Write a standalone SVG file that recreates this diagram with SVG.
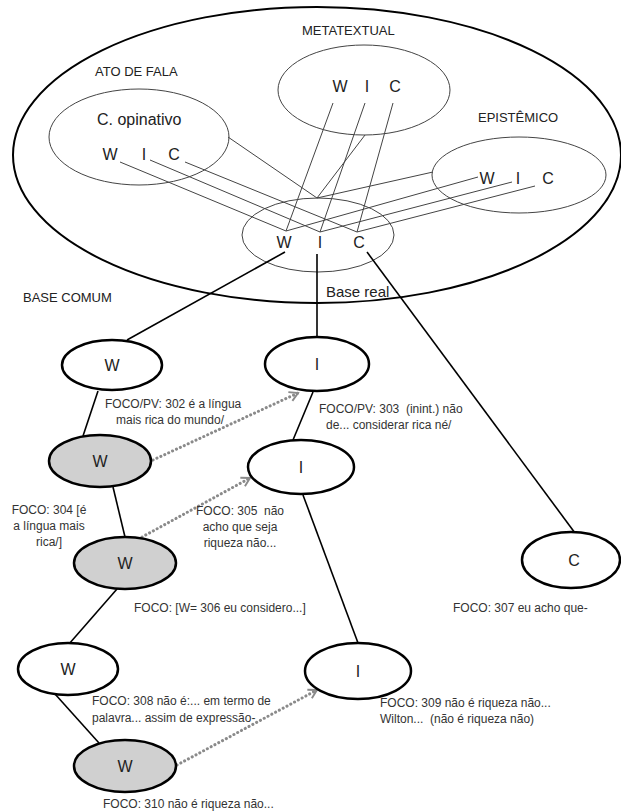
<svg xmlns="http://www.w3.org/2000/svg" width="621" height="811" viewBox="0 0 621 811">
<defs>
<style>
.lbl{font-family:"Liberation Sans",Arial,sans-serif;fill:#222}
.cap{font-family:"Liberation Sans",Arial,sans-serif;font-size:13px;fill:#222}
.sm{font-family:"Liberation Sans",Arial,sans-serif;font-size:12px;fill:#333}
.let{font-family:"Liberation Sans",Arial,sans-serif;font-size:16px;fill:#222;text-anchor:middle}
.thin{fill:none;stroke:#444;stroke-width:1}
.node{stroke:#000;stroke-width:2.5}
.edge{stroke:#000;stroke-width:1.6;fill:none}
.dot{stroke:#8a8a8a;stroke-width:3;stroke-dasharray:0.1 4.2;stroke-linecap:round;fill:none}
</style>
<marker id="arr" viewBox="0 0 10 10" refX="8" refY="5" markerWidth="4" markerHeight="4" orient="auto" markerUnits="strokeWidth">
<path d="M1,1 L8,5 L1,9" fill="none" stroke="#8a8a8a" stroke-width="1.6"/>
</marker>
</defs>
<rect width="621" height="811" fill="#fff"/>

<g id="context">
<ellipse cx="317" cy="155" rx="304" ry="148" fill="none" stroke="#000" stroke-width="2"/>
<text class="cap" x="95" y="76">ATO DE FALA</text>
<text class="cap" x="302" y="35">METATEXTUAL</text>
<text class="cap" x="478" y="122">EPISTÊMICO</text>
<text class="cap" x="23" y="302">BASE COMUM</text>
</g>

<g id="c-opinativo">
<ellipse class="thin" cx="139" cy="137" rx="90" ry="48"/>
<text class="lbl" x="97" y="125" font-size="16">C. opinativo</text>
<text class="let" x="110" y="160">W</text>
<text class="let" x="144" y="160">I</text>
<text class="let" x="174" y="160">C</text>
</g>

<g id="metatextual">
<ellipse class="thin" cx="364" cy="90" rx="86" ry="45"/>
<text class="let" x="340" y="92">W</text>
<text class="let" x="367" y="92">I</text>
<text class="let" x="395" y="92">C</text>
</g>

<g id="epistemico">
<ellipse class="thin" cx="519" cy="175" rx="87" ry="38"/>
<text class="let" x="487" y="184">W</text>
<text class="let" x="518" y="184">I</text>
<text class="let" x="548" y="184">C</text>
</g>

<g id="base-real">
<ellipse class="thin" cx="318" cy="235" rx="76" ry="37"/>
<text class="let" x="284" y="248">W</text>
<text class="let" x="320" y="248">I</text>
<text class="let" x="359" y="248">C</text>
<text class="lbl" x="326" y="297" font-size="15">Base real</text>
</g>

<g id="connectors">
<g class="thin">
<line x1="120" y1="162" x2="286" y2="231"/>
<line x1="150" y1="160" x2="320" y2="232"/>
<line x1="185" y1="162" x2="357" y2="232"/>
<line x1="333" y1="103" x2="286" y2="231"/>
<line x1="365" y1="103" x2="320" y2="232"/>
<line x1="393" y1="103" x2="357" y2="232"/>
<line x1="478" y1="177" x2="286" y2="231"/>
<line x1="512" y1="182" x2="320" y2="232"/>
<line x1="535" y1="186" x2="357" y2="232"/>
<line x1="228" y1="137" x2="317" y2="198"/>
<line x1="365" y1="135" x2="317" y2="198"/>
<line x1="433" y1="172" x2="317" y2="198"/>
</g>
<line class="edge" x1="285" y1="252" x2="127" y2="340"/>
<line class="edge" x1="317" y1="254" x2="317" y2="338"/>
<line class="edge" x1="367" y1="252" x2="575" y2="533"/>
<line class="edge" x1="98" y1="391" x2="83" y2="436"/>
<line class="edge" x1="113" y1="487" x2="125" y2="537"/>
<line class="edge" x1="117" y1="589" x2="69" y2="644"/>
<line class="edge" x1="55" y1="694" x2="99" y2="743"/>
<line class="edge" x1="313" y1="392" x2="293" y2="440"/>
<line class="edge" x1="303" y1="495" x2="358" y2="643"/>
<path class="dot" d="M153,460 L298,393" marker-end="url(#arr)"/>
<path class="dot" d="M142,537 L250,478" marker-end="url(#arr)"/>
<path class="dot" d="M177,765 L317,690" marker-end="url(#arr)"/>
</g>

<g id="node-w1">
<ellipse class="node" cx="112" cy="365" rx="50" ry="25" fill="#fff"/>
<text class="let" x="112" y="371">W</text>
</g>
<g id="node-i1">
<ellipse class="node" cx="317" cy="364" rx="52" ry="27" fill="#fff"/>
<text class="let" x="317" y="370">I</text>
</g>
<g id="node-w2">
<ellipse class="node" cx="100" cy="461" rx="51" ry="26" fill="#d0d0d0"/>
<text class="let" x="100" y="467">W</text>
</g>
<g id="node-i2">
<ellipse class="node" cx="301" cy="467" rx="53" ry="27" fill="#fff"/>
<text class="let" x="301" y="473">I</text>
</g>
<g id="node-w3">
<ellipse class="node" cx="125" cy="563" rx="51" ry="26" fill="#d0d0d0"/>
<text class="let" x="125" y="569">W</text>
</g>
<g id="node-c">
<ellipse class="node" cx="571" cy="560" rx="49" ry="28" fill="#fff"/>
<text class="let" x="574" y="566">C</text>
</g>
<g id="node-w4">
<ellipse class="node" cx="68" cy="669" rx="50" ry="26" fill="#fff"/>
<text class="let" x="68" y="675">W</text>
</g>
<g id="node-i3">
<ellipse class="node" cx="358" cy="671" rx="53" ry="28" fill="#fff"/>
<text class="let" x="358" y="677">I</text>
</g>
<g id="node-w5">
<ellipse class="node" cx="125" cy="766" rx="51" ry="26" fill="#d0d0d0"/>
<text class="let" x="125" y="772">W</text>
</g>

<g id="captions">
<text class="sm" x="105" y="408">FOCO/PV: 302 é a língua</text>
<text class="sm" x="116" y="424">mais rica do mundo/</text>
<text class="sm" x="319" y="413" xml:space="preserve">FOCO/PV: 303  (inint.) não</text>
<text class="sm" x="326" y="429">de... considerar rica né/</text>
<text class="sm" x="49" y="514" text-anchor="middle">FOCO: 304 [é</text>
<text class="sm" x="49" y="530" text-anchor="middle">a língua mais</text>
<text class="sm" x="49" y="546" text-anchor="middle">rica/]</text>
<text class="sm" x="240" y="515" text-anchor="middle" xml:space="preserve">FOCO: 305  não</text>
<text class="sm" x="240" y="531" text-anchor="middle">acho que seja</text>
<text class="sm" x="240" y="547" text-anchor="middle">riqueza não...</text>
<text class="sm" x="134" y="612">FOCO: [W= 306 eu considero...]</text>
<text class="sm" x="453" y="612">FOCO: 307 eu acho que-</text>
<text class="sm" x="92" y="705">FOCO: 308 não é:... em termo de</text>
<text class="sm" x="92" y="722">palavra... assim de expressão-</text>
<text class="sm" x="380" y="707">FOCO: 309 não é riqueza não...</text>
<text class="sm" x="380" y="723" xml:space="preserve">Wilton...  (não é riqueza não)</text>
<text class="sm" x="103" y="808">FOCO: 310 não é riqueza não...</text>
</g>
</svg>
